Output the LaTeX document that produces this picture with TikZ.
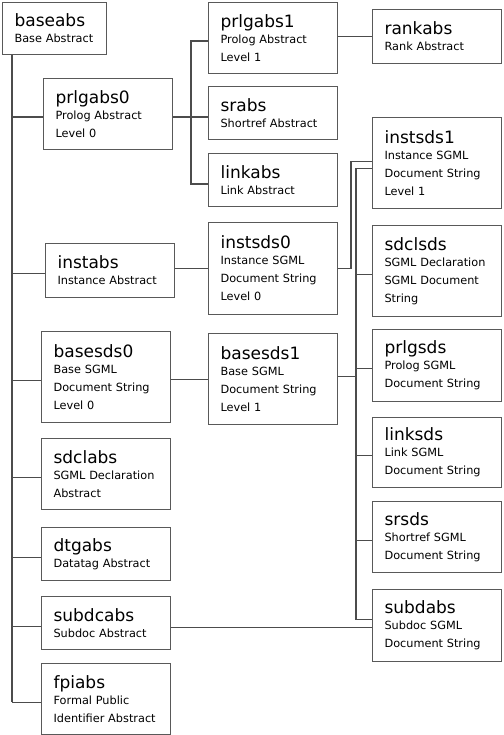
\documentclass[tikz,border=0pt]{standalone}
\usepackage{fontspec}
\setmainfont{DejaVu Sans}
\usetikzlibrary{calc, positioning}

\tikzset{
    box/.style={draw=black!65, line width=1.1pt, anchor=north west, align=left,
        inner xsep=12pt, inner ysep=0pt, text width=105pt, minimum width=129pt,
        font=\fontsize{11.3}{18}\selectfont},
    link/.style={draw=black!70, line width=1.1pt}
}
\newcommand{\boxname}[1]{{\fontsize{17}{18}\selectfont #1}}

\begin{document}
\begin{tikzpicture}[x=1pt, y=-1pt]
        \useasboundingbox (0,0) rectangle (503,735);

        % left column
        \node[box, text width=80pt, inner xsep=12pt, minimum width=104pt, minimum height=52pt] (baseabs) at (2,2) {\boxname{baseabs}\\[-2pt]Base Abstract};
        \node[box, minimum height=71pt] (prlgabs0) at (43,78) {\boxname{prlgabs0}\\[-2pt]Prolog Abstract\\Level 0};
        \node[box, minimum height=54pt] (instabs) at (45,243) {\boxname{instabs}\\[-2pt]Instance Abstract};
        \node[box, minimum height=91pt] (basesds0) at (41,331) {\boxname{basesds0}\\[-2pt]Base SGML\\Document String\\Level 0};
        \node[box, minimum height=71pt] (sdclabs) at (41,438) {\boxname{sdclabs}\\[-2pt]SGML Declaration\\Abstract};
        \node[box, minimum height=53pt] (dtgabs) at (41,527) {\boxname{dtgabs}\\[-2pt]Datatag Abstract};
        \node[box, minimum height=53pt] (subdcabs) at (41,596) {\boxname{subdcabs}\\[-2pt]Subdoc Abstract};
        \node[box, minimum height=71pt] (fpiabs) at (41,663) {\boxname{fpiabs}\\[-2pt]Formal Public\\Identifier Abstract};

        % middle column
        \node[box, minimum height=71pt] (prlgabs1) at (208,2) {\boxname{prlgabs1}\\[-2pt]Prolog Abstract\\Level 1};
        \node[box, minimum height=53pt] (srabs) at (208,86) {\boxname{srabs}\\[-2pt]Shortref Abstract};
        \node[box, minimum height=53pt] (linkabs) at (208,153) {\boxname{linkabs}\\[-2pt]Link Abstract};
        \node[box, minimum height=92pt] (instsds0) at (208,222) {\boxname{instsds0}\\[-2pt]Instance SGML\\Document String\\Level 0};
        \node[box, minimum height=91pt] (basesds1) at (208,333) {\boxname{basesds1}\\[-2pt]Base SGML\\Document String\\Level 1};

        % right column
        \node[box, minimum height=54pt] (rankabs) at (372,9) {\boxname{rankabs}\\[-2pt]Rank Abstract};
        \node[box, minimum height=91pt] (instsds1) at (372,117) {\boxname{instsds1}\\[-2pt]Instance SGML\\Document String\\Level 1};
        \node[box, minimum height=91pt] (sdclsds) at (372,225) {\boxname{sdclsds}\\[-2pt]SGML Declaration\\SGML Document\\String};
        \node[box, minimum height=72pt] (prlgsds) at (372,329) {\boxname{prlgsds}\\[-2pt]Prolog SGML\\Document String};
        \node[box, minimum height=70pt] (linksds) at (372,417) {\boxname{linksds}\\[-2pt]Link SGML\\Document String};
        \node[box, minimum height=71pt] (srsds) at (372,501) {\boxname{srsds}\\[-2pt]Shortref SGML\\Document String};
        \node[box, minimum height=72pt] (subdabs) at (372,589) {\boxname{subdabs}\\[-2pt]Subdoc SGML\\Document String};

        % main trunk from baseabs
        \coordinate (mainX) at (12,0);
        \draw[link] (baseabs.south -| mainX) -- ($(fpiabs.west -| mainX)+(0,3)$);
        \foreach \n in {prlgabs0, instabs, basesds0, sdclabs, dtgabs, subdcabs, fpiabs}
            \draw[link] ($(\n.west -| mainX)+(0,3)$) -- ($(\n.west)+(0,3)$);

        % prolog branch
        \coordinate (prlgFork) at (191,117);
        \draw[link] (prlgabs0.east |- prlgFork) -- (srabs.west |- prlgFork);
        \draw[link] ($(prlgabs1.west)+(0,3)$) -| (prlgFork) |- ($(linkabs.west)+(0,4)$);
        \draw[link] (prlgabs1.east |- rankabs.west) -- (rankabs.west);

        % instance branch
        \draw[link] (instabs.east |- instsds0.west) -- (instsds0.west);
        \coordinate (instX) at (351,0);
        \draw[link] (instsds0.east) -| ($(instsds1.west -| instX)+(0,-1.5)$) -- ($(instsds1.west)+(0,-1.5)$);

        % base sds branch
        \draw[link] (basesds0.east |- basesds1.west) -- (basesds1.west);
        \coordinate (sdsX) at (356,0);
        \draw[link] ($(instsds1.west)+(0,5.5)$) -| ($(subdabs.west -| sdsX)+(0,-6)$) -- ($(subdabs.west)+(0,-6)$);
        \draw[link] ($(basesds1.east)+(0,-2.5)$) -- ($(basesds1.east -| sdsX)+(0,-2.5)$);
        \foreach \n in {sdclsds, prlgsds, linksds, srsds}
            \draw[link] ($(\n.west -| sdsX)+(0,3)$) -- ($(\n.west)+(0,3)$);

        % subdoc link
        \coordinate (subdLink) at ($(subdcabs.east)+(0,4)$);
        \draw[link] (subdLink) -- (subdLink -| subdabs.west);
\end{tikzpicture}
\end{document}
